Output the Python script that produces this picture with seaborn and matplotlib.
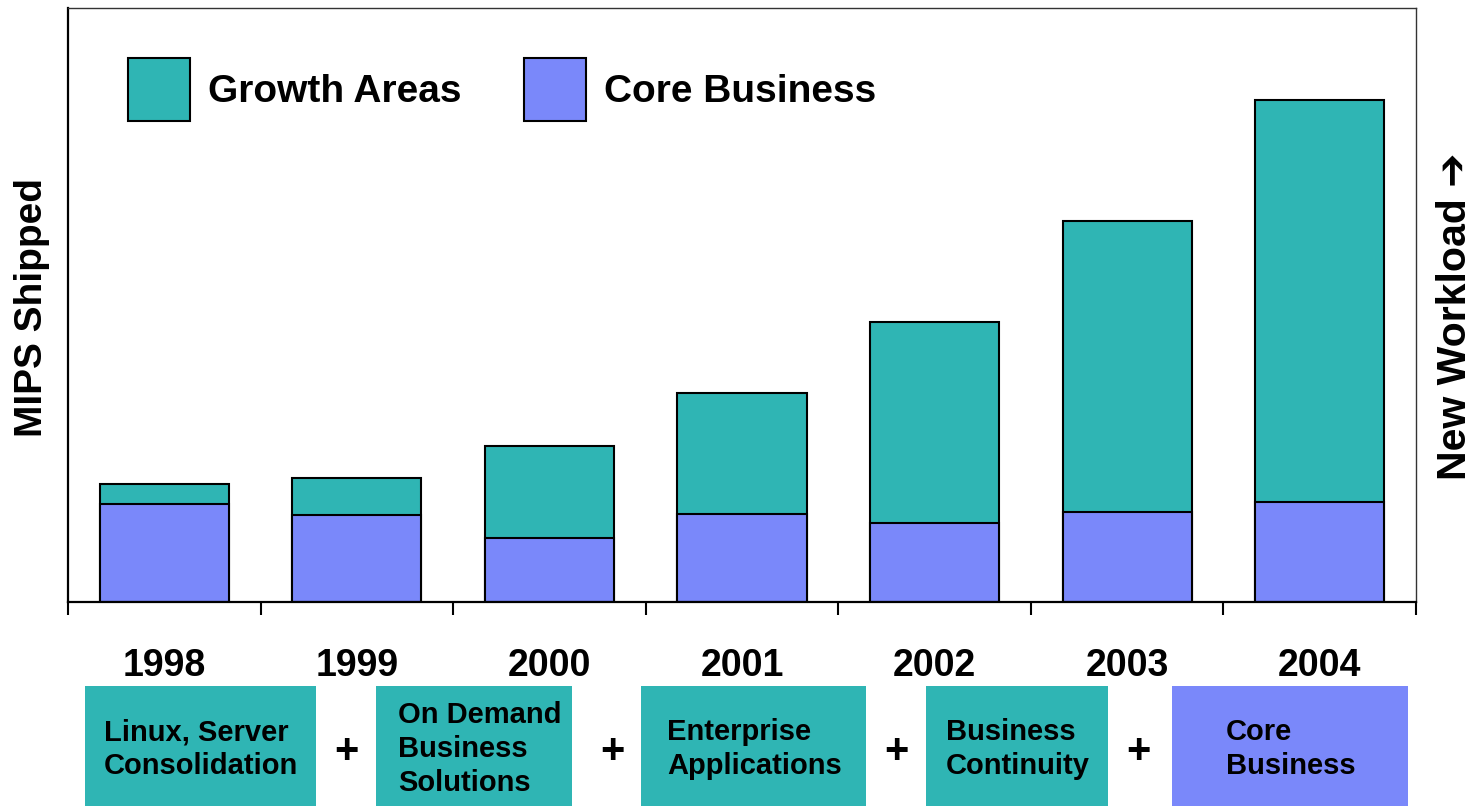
import matplotlib
matplotlib.use("Agg")
import matplotlib.pyplot as plt
import seaborn as sns
import numpy as np
import pandas as pd
from matplotlib.patches import Rectangle, Patch

# ---- data (arbitrary units) ----
years = ["1998", "1999", "2000", "2001", "2002", "2003", "2004"]
core_business = [98, 87, 64, 88, 79, 90, 100]
growth_areas = [20, 37, 92, 121, 201, 291, 402]
box_labels = ["Linux, Server\nConsolidation", "On Demand\nBusiness\nSolutions",
              "Enterprise\nApplications", "Business\nContinuity", "Core\nBusiness"]

TEAL = "#2FB5B4"
BLUE = "#7A88FA"

sns.set_theme(style="white")
plt.rcParams['font.family'] = ['Liberation Sans', 'DejaVu Sans']
plt.rcParams['font.weight'] = 'bold'
plt.rcParams['text.color'] = 'black'
plt.rcParams['axes.labelcolor'] = 'black'
plt.rcParams['xtick.color'] = 'black'
plt.rcParams['ytick.color'] = 'black'

W, H = 1474, 806
fig = plt.figure(figsize=(W / 100, H / 100), dpi=100)
ax = fig.add_axes([68 / W, (H - 602) / H, (1416 - 68) / W, (602 - 8) / H])

df = pd.DataFrame({"year": years, "core": core_business,
                   "total": np.array(core_business) + np.array(growth_areas)})

sns.barplot(data=df, x="year", y="total", color=TEAL, saturation=1,
            edgecolor="black", linewidth=1.5, width=0.67, ax=ax)
sns.barplot(data=df, x="year", y="core", color=BLUE, saturation=1,
            edgecolor="black", linewidth=1.5, width=0.67, ax=ax)

ax.set_xlim(-0.5, 6.5)
ax.set_ylim(0, 594)
ax.set_yticks([])
ax.set_xlabel("")
ax.set_ylabel("MIPS Shipped", fontsize=28, fontweight="bold", color="black",
              va="center")
ax.yaxis.set_label_coords(-36 / 1348, 0.495)

# category labels and boundary ticks
ax.tick_params(axis="x", which="major", length=0, pad=33, labelsize=27,
               labelcolor="black")
for lbl in ax.get_xticklabels():
    lbl.set_fontweight("bold")
ax.set_xticks(np.arange(-0.5, 7.0, 1.0), minor=True)
ax.tick_params(axis="x", which="minor", bottom=True, length=9, width=1.5,
               direction="out", color="black")

for side in ["left", "bottom"]:
    ax.spines[side].set_color("black")
    ax.spines[side].set_linewidth(1.6)
for side in ["top", "right"]:
    ax.spines[side].set_color("#333333")
    ax.spines[side].set_linewidth(1.0)

# legend
handles = [Patch(facecolor=TEAL, edgecolor="black", linewidth=1.5, label="Growth Areas"),
           Patch(facecolor=BLUE, edgecolor="black", linewidth=1.5, label="Core Business")]
leg = ax.legend(handles=handles, loc="upper left", ncol=2, frameon=False,
                bbox_to_anchor=((128 - 68) / 1348, (602 - 58) / 594),
                borderpad=0, borderaxespad=0, handlelength=1.6, handleheight=2.1,
                handletextpad=0.45, columnspacing=1.62,
                prop={"size": 28, "weight": "bold"})
for t in leg.get_texts():
    t.set_color("black")

# right-side label
ax.text((1455 - 68) / 1348, (602 - 316) / 594, "New Workload \u2794",
        rotation=90, ha="center", va="center", fontsize=29.5, fontweight="bold",
        transform=ax.transAxes, family=['Liberation Sans', 'DejaVu Sans'])

# bottom boxes
boxes = [(85, 316), (376, 572), (641, 866), (926, 1108), (1172, 1408)]
text_x = [104, 398, 667, 946, 1226]
box_colors = [TEAL, TEAL, TEAL, TEAL, BLUE]
for (x0, x1), tx, col, lab in zip(boxes, text_x, box_colors, box_labels):
    fig.patches.append(Rectangle((x0 / W, 0), (x1 - x0) / W, (806 - 686) / H,
                                 transform=fig.transFigure, facecolor=col,
                                 edgecolor="none", zorder=0))
    fig.text(tx / W, (806 - 749) / H, lab, ha="left", va="center",
             fontsize=21, fontweight="bold", linespacing=1.27,
             family=['Liberation Sans Narrow', 'Liberation Sans', 'DejaVu Sans'])

for px in [346, 612, 896, 1138]:
    fig.text(px / W, (806 - 752) / H, "+", ha="center", va="center",
             fontsize=30, fontweight="bold")

fig.savefig("out.png", dpi=100)
